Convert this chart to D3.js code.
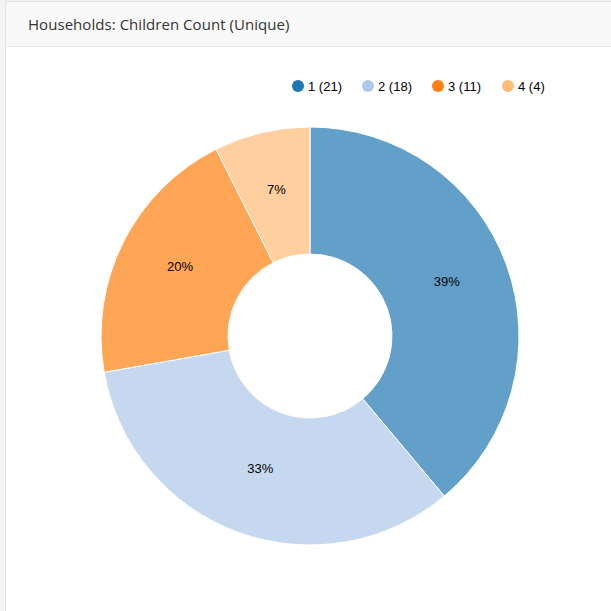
<!DOCTYPE html>
<html>
<head>
<meta charset="utf-8">
<script src="https://cdn.jsdelivr.net/npm/d3@7"></script>
<style>
  html, body { margin: 0; padding: 0; background: #f4f4f4; }
  body { width: 611px; height: 611px; overflow: hidden; position: relative; }
  #panel { position: absolute; left: 5px; top: 1px; width: 640px; height: 640px; background: #fff; border: 1px solid #e3e3e3; box-sizing: border-box; }
  #header { height: 45px; background: #f9f9f9; border-bottom: 1px solid #e6e6e6; box-sizing: border-box; }
  #header span { position: absolute; left: 22px; top: 12px; font-family: "Open Sans", sans-serif; font-size: 15px; letter-spacing: 0.05px; color: #333; }
  svg { position: absolute; left: 0; top: 0; }
</style>
</head>
<body>
<div id="panel"><div id="header"><span>Households: Children Count (Unique)</span></div></div>
<svg id="chart" width="611" height="611"></svg>
<script>
const categories = ["1", "2", "3", "4"];
const values = [21, 18, 11, 4];
const colors = ["#1f77b4", "#aec7e8", "#ff7f0e", "#ffbb78"];

const svg = d3.select("#chart");
const cx = 310, cy = 336, outerR = 209, innerR = 82;
const total = d3.sum(values);
const data = categories.map((c, i) => ({ cat: c, value: values[i], color: colors[i] }));

const pie = d3.pie().value(d => d.value).sort(null);
const arc = d3.arc().innerRadius(innerR).outerRadius(outerR);

const g = svg.append("g").attr("transform", `translate(${cx},${cy})`);
const arcs = pie(data);
g.selectAll("path").data(arcs).join("path")
  .attr("d", arc)
  .attr("fill", d => d.data.color)
  .attr("fill-opacity", 0.7)
  .attr("stroke", "#fff")
  .attr("stroke-width", 1);

g.selectAll("text").data(arcs).join("text")
  .attr("transform", d => `translate(${arc.centroid(d)})`)
  .attr("text-anchor", "middle")
  .attr("font-family", "Liberation Sans, Arial, sans-serif")
  .attr("font-size", 13)
  .attr("fill", "#000")
  .text(d => Math.round(d.data.value / total * 100) + "%");

const legend = svg.append("g").attr("transform", "translate(298,86)");
const items = legend.selectAll("g").data(data).join("g")
  .attr("transform", (d, i) => `translate(${i * 70},0)`);
items.append("circle").attr("r", 6).attr("fill", d => d.color);
items.append("text")
  .attr("x", 10).attr("dy", "0.35em")
  .attr("font-family", "Liberation Sans, Arial, sans-serif")
  .attr("font-size", 13)
  .attr("fill", "#000")
  .text(d => `${d.cat} (${d.value})`);
</script>
</body>
</html>
